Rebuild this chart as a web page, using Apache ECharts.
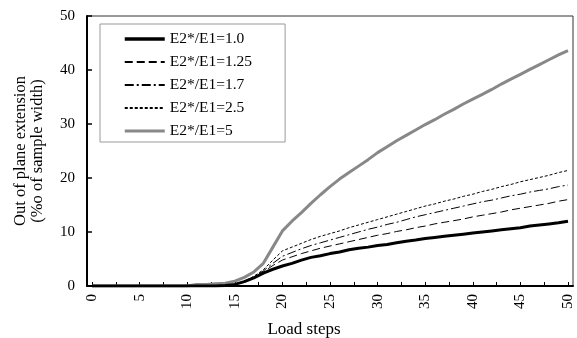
<!DOCTYPE html>
<html>
<head>
<meta charset="utf-8">
<script src="https://cdn.jsdelivr.net/npm/echarts@6/dist/echarts.min.js"></script>
<style>
  html, body { margin: 0; padding: 0; background: #fff; }
  #chart { width: 577px; height: 338px; }
</style>
</head>
<body>
<div id="chart"></div>
<script>
// load steps 0..50
const steps = [];
for (let i = 0; i <= 50; i++) steps.push(i);

const seriesNames = ['E2*/E1=1.0', 'E2*/E1=1.25', 'E2*/E1=1.7', 'E2*/E1=2.5', 'E2*/E1=5'];

const ratio10 = [0,0,0,0,0,0,0,0,0,0, 0,0,0,0,0.1,0.3,0.8,1.5,2.4,3.1,
  3.7,4.2,4.8,5.3,5.6,6.0,6.3,6.7,7.0,7.2, 7.5,7.7,8.0,8.3,8.5,8.8,9.0,9.2,9.4,9.6,
  9.8,10.0,10.2,10.4,10.6,10.8,11.1,11.3,11.5,11.7, 12.0];
const ratio125 = [0,0,0,0,0,0,0,0,0,0, 0,0,0,0,0.1,0.3,0.8,1.6,2.6,3.8,
  4.8,5.4,6.0,6.5,7.0,7.4,7.8,8.2,8.6,9.0, 9.4,9.7,10.1,10.4,10.8,11.1,11.5,11.8,12.1,12.4,
  12.8,13.1,13.4,13.7,14.1,14.4,14.7,15.0,15.3,15.7, 16.0];
const ratio17 = [0,0,0,0,0,0,0,0,0,0, 0,0,0,0,0.1,0.3,0.8,1.7,2.8,4.2,
  5.5,6.2,6.9,7.5,8.0,8.5,9.0,9.5,10.0,10.5, 10.9,11.4,11.8,12.3,12.8,13.2,13.6,14.0,14.4,14.8,
  15.2,15.6,15.9,16.3,16.7,17.0,17.4,17.7,18.0,18.4, 18.7];
const ratio25 = [0,0,0,0,0,0,0,0,0,0, 0,0,0,0,0.1,0.3,0.9,1.8,3.0,4.8,
  6.5,7.2,7.9,8.6,9.2,9.7,10.2,10.8,11.3,11.8, 12.3,12.8,13.3,13.8,14.3,14.8,15.2,15.7,16.1,16.6,
  17.0,17.5,17.9,18.4,18.8,19.3,19.7,20.1,20.5,21.0, 21.4];
const ratio5 = [0,0,0,0,0,0,0,0,0,0, 0,0.3,0.3,0.4,0.5,0.9,1.6,2.6,4.2,7.2,
  10.2,12.0,13.6,15.3,16.9,18.4,19.8,21.0,22.2,23.4, 24.7,25.8,26.9,27.9,28.9,29.9,30.8,31.8,32.7,33.7,
  34.6,35.5,36.4,37.4,38.3,39.2,40.1,41.0,41.9,42.8, 43.6];

const yTicks = [0, 10, 20, 30, 40, 50];

const font = 'Liberation Serif, Times New Roman, serif';

function pairs(arr) {
  return steps.map((s, i) => [s, arr[i]]);
}

const chart = echarts.init(document.getElementById('chart'));

const option = {
  animation: false,
  backgroundColor: '#fff',
  textStyle: { fontFamily: font, color: '#000' },
  legend: {
    orient: 'vertical',
    left: 100,
    top: 24,
    padding: [7, 33, 3, 23],
    itemGap: 7,
    itemWidth: 40,
    itemHeight: 14,
    borderColor: '#999',
    borderWidth: 1,
    itemStyle: { color: 'transparent', borderColor: 'transparent', borderWidth: 0 },
    textStyle: { fontFamily: font, fontSize: 15.5, lineHeight: 16, color: '#000' },
    data: [
      { name: seriesNames[0], lineStyle: { width: 3.5 } },
      seriesNames[1], seriesNames[2], seriesNames[3],
      { name: seriesNames[4], lineStyle: { width: 3 } }
    ]
  },
  grid: [
    // frame
    { left: 87, right: 4, top: 16, bottom: 52, show: true, borderColor: '#333', borderWidth: 1, outerBoundsMode: 'none', containLabel: false },
    // data area
    { left: 92, right: 9, top: 16, bottom: 52, outerBoundsMode: 'none', containLabel: false }
  ],
  xAxis: [
    {
      gridIndex: 0, type: 'value', min: 0, max: 1,
      axisLine: { lineStyle: { color: '#000', width: 2 } },
      axisTick: { show: false }, axisLabel: { show: false }, splitLine: { show: false }
    },
    {
      gridIndex: 1, type: 'value', min: 0, max: 50, interval: 2.5,
      axisLine: { show: false },
      axisTick: { inside: true, length: 4, lineStyle: { color: '#000', width: 1 } },
      splitLine: { show: false },
      axisLabel: {
        rotate: 90, fontSize: 15, color: '#000', fontFamily: font, margin: 8,
        formatter: v => (v % 5 === 0 ? String(v) : '')
      },
      name: 'Load steps', nameLocation: 'middle', nameGap: 35,
      nameTextStyle: { fontSize: 17, color: '#000', fontFamily: font, padding: [0, 52, 0, 0] }
    }
  ],
  yAxis: [
    {
      gridIndex: 0, type: 'value', min: yTicks[0], max: yTicks[yTicks.length - 1], interval: 10,
      axisLine: { show: true, lineStyle: { color: '#000', width: 2 } },
      axisTick: { show: true, inside: true, length: 5, lineStyle: { color: '#000', width: 1.5 } },
      splitLine: { show: false },
      axisLabel: { fontSize: 15, color: '#000', fontFamily: font, margin: 12 },
      name: 'Out of plane extension\n(%o of sample width)',
      nameLocation: 'middle', nameGap: 41, nameRotate: 90,
      nameTextStyle: { fontSize: 16.5, color: '#000', fontFamily: font, lineHeight: 17 }
    },
    {
      gridIndex: 1, type: 'value', min: 0, max: 50, show: false
    }
  ],
  series: [
    {
      name: seriesNames[0], type: 'line', xAxisIndex: 1, yAxisIndex: 1,
      data: pairs(ratio10), symbol: 'none',
      lineStyle: { color: '#000', width: 3 }, itemStyle: { color: '#000' }, z: 5
    },
    {
      name: seriesNames[1], type: 'line', xAxisIndex: 1, yAxisIndex: 1,
      data: pairs(ratio125), symbol: 'none',
      lineStyle: { color: '#000', width: 1, type: [8, 4] }, itemStyle: { color: '#000' }
    },
    {
      name: seriesNames[2], type: 'line', xAxisIndex: 1, yAxisIndex: 1,
      data: pairs(ratio17), symbol: 'none',
      lineStyle: { color: '#000', width: 1, type: [9, 3, 2, 3] }, itemStyle: { color: '#000' }
    },
    {
      name: seriesNames[3], type: 'line', xAxisIndex: 1, yAxisIndex: 1,
      data: pairs(ratio25), symbol: 'none',
      lineStyle: { color: '#000', width: 1, type: [3, 2] }, itemStyle: { color: '#000' }
    },
    {
      name: seriesNames[4], type: 'line', xAxisIndex: 1, yAxisIndex: 1,
      data: pairs(ratio5), symbol: 'none',
      lineStyle: { color: '#888', width: 3 }, itemStyle: { color: '#888' }
    }
  ]
};

chart.setOption(option);
</script>
</body>
</html>
